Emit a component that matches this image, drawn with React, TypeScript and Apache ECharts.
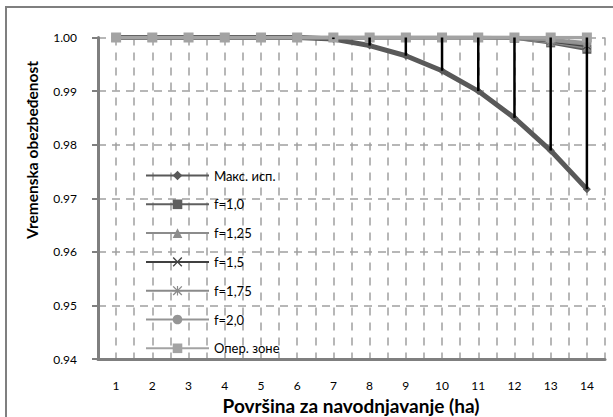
import React, { useEffect, useRef } from "react";
import * as echarts from "echarts";

const categories = ["1", "2", "3", "4", "5", "6", "7", "8", "9", "10", "11", "12", "13", "14"];
const maksIsp = [1, 1, 1, 1, 1, 1, 0.9997, 0.9985, 0.9966, 0.9938, 0.99, 0.985, 0.9789, 0.9717];
const f10 = [1, 1, 1, 1, 1, 1, 1, 1, 1, 1, 1, 0.9999, 0.999, 0.9978];
const f125 = [1, 1, 1, 1, 1, 1, 1, 1, 1, 1, 1, 0.9999, 0.9992, 0.9982];
const f15 = [1, 1, 1, 1, 1, 1, 1, 1, 1, 1, 1, 1, 0.9994, 0.9985];
const f175 = [1, 1, 1, 1, 1, 1, 1, 1, 1, 1, 1, 1, 0.9995, 0.9988];
const f20 = [1, 1, 1, 1, 1, 1, 1, 1, 1, 1, 1, 1, 0.9996, 0.999];
const operZone = [1, 1, 1, 1, 1, 1, 1, 1, 1, 1, 1, 1, 1, 1];
const yMin = 0.94;
const yMax = 1.0;
const yStep = 0.01;

const FONT = "Lato, 'Noto Sans', 'Open Sans', sans-serif";

const X_SYM = "path://M0,1L1,0L5,4L9,0L10,1L6,5L10,9L9,10L5,6L1,10L0,9L4,5Z";
const STAR_SYM = "path://M0,1L1,0L4.4,3.4V0H5.6V3.4L9,0L10,1L6.6,4.4H10V5.6H6.6L10,9L9,10L5.6,6.6V10H4.4V6.6L1,10L0,9L3.4,5.6H0V4.4H3.4Z";

export default function App() {
  const ref = useRef<HTMLDivElement>(null);
  useEffect(() => {
    if (!ref.current) return;
    const chart = echarts.init(ref.current, null, { renderer: "svg" });
    const allSeries = [maksIsp, f10, f125, f15, f175, f20, operZone];
    const hiLo = categories.map((_, i) => {
      const vals = allSeries.map((s) => s[i]);
      return [i, Math.min(...vals), Math.max(...vals)];
    });
    const mk = (name: string, data: number[], color: string, symbol: string, size: number, width: number) => ({
      name,
      type: "line",
      data,
      xAxisIndex: 0,
      yAxisIndex: 0,
      symbol,
      symbolSize: size,
      showSymbol: true,
      lineStyle: { color, width },
      itemStyle: { color, borderWidth: 0 },
      emphasis: { disabled: true },
    });
    chart.setOption({
      animation: false,
      grid: { left: 98, right: 8, top: 37.5, bottom: 58, containLabel: false },
      legend: {
        orient: "vertical",
        left: 145,
        top: 169,
        padding: 0,
        itemWidth: 63,
        itemHeight: 12,
        itemGap: 15.8,
        textStyle: { fontFamily: FONT, fontSize: 13, color: "#000" },
        data: ["Макс. исп.", "f=1,0", "f=1,25", "f=1,5", "f=1,75", "f=2,0", "Опер. зоне"],
      },
      xAxis: [
        {
          type: "category",
          data: categories,
          boundaryGap: true,
          axisLine: { show: true, lineStyle: { color: "#7f7f7f", width: 3 } },
          axisTick: { show: false },
          axisLabel: { margin: 20, fontFamily: FONT, fontSize: 12, color: "#000" },
          splitLine: { show: false },
        },
        {
          type: "value",
          min: 0,
          max: 28,
          interval: 1,
          show: true,
          position: "bottom",
          axisLine: { show: false },
          axisTick: { show: false },
          axisLabel: { show: false },
          splitLine: { show: true, lineStyle: { color: "#a0a0a0", width: 1.5, type: [8, 7] } },
        },
      ],
      yAxis: {
        type: "value",
        min: yMin,
        max: yMax,
        interval: yStep,
        axisLine: { show: true, lineStyle: { color: "#7f7f7f", width: 3 } },
        axisTick: { show: true, inside: false, length: 6, lineStyle: { color: "#7f7f7f", width: 2 } },
        axisLabel: {
          margin: 21,
          fontFamily: FONT,
          fontSize: 12,
          color: "#000",
          formatter: (v: number) => v.toFixed(2),
        },
        splitLine: { show: true, lineStyle: { color: "#a0a0a0", width: 1.5, type: [8, 6] } },
      },
      series: [
        mk("Макс. исп.", maksIsp, "#595959", "diamond", 8, 5),
        mk("f=1,0", f10, "#5f5f5f", "rect", 9, 3.5),
        mk("f=1,25", f125, "#8c8c8c", "triangle", 9, 3.5),
        mk("f=1,5", f15, "#404040", X_SYM, 8, 3.5),
        mk("f=1,75", f175, "#8a8a8a", STAR_SYM, 9, 3.5),
        mk("f=2,0", f20, "#959595", "circle", 9, 3.5),
        mk("Опер. зоне", operZone, "#a3a3a3", "rect", 10, 3.5),
        {
          name: "hilo",
          type: "custom",
          xAxisIndex: 0,
          yAxisIndex: 0,
          z: 5,
          silent: true,
          data: hiLo,
          renderItem: (params: any, api: any) => {
            const lo = api.coord([api.value(0), api.value(1)]);
            const hi = api.coord([api.value(0), api.value(2)]);
            return {
              type: "line",
              shape: { x1: lo[0], y1: lo[1], x2: hi[0], y2: hi[1] },
              style: { stroke: "#000", lineWidth: 2.5 },
            };
          },
        },
      ],
      graphic: [
        {
          type: "rect",
          silent: true,
          shape: { x: 6, y: 7, width: 640, height: 440 },
          style: { fill: "none", stroke: "#7f7f7f", lineWidth: 2 },
        },
        {
          type: "text",
          x: 351,
          y: 405,
          style: {
            text: "Površina za navodnjavanje (ha)",
            fontFamily: FONT,
            fontSize: 19,
            fontWeight: "bold",
            fill: "#000",
            align: "center",
            verticalAlign: "middle",
          },
        },
        {
          type: "text",
          x: 32,
          y: 150,
          rotation: Math.PI / 2,
          style: {
            text: "Vremenska obezbeđenost",
            fontFamily: FONT,
            fontSize: 15.5,
            fontWeight: "bold",
            fill: "#000",
            align: "center",
            verticalAlign: "middle",
          },
        },
      ],
    });
    return () => chart.dispose();
  }, []);
  return (
    <div
      ref={ref}
      style={{ position: "absolute", left: 0, top: 0, width: 613, height: 417, background: "#fff" }}
    />
  );
}
